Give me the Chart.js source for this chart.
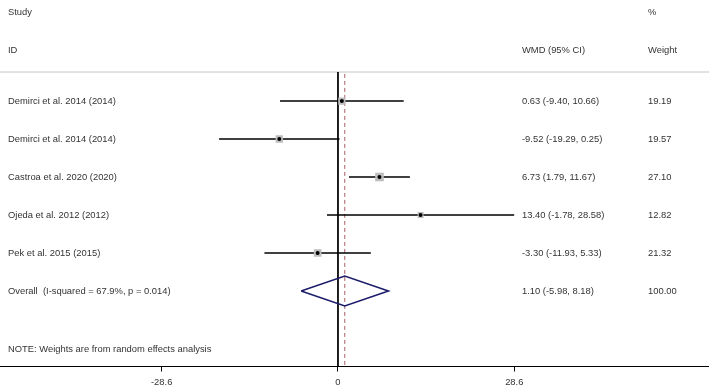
<!DOCTYPE html>
<html>
<head>
<meta charset="utf-8">
<script src="https://cdn.jsdelivr.net/npm/chart.js@4.4.0/dist/chart.umd.min.js"></script>
<style>
  html, body { margin: 0; padding: 0; background: #fff; }
  #wrap { width: 709px; height: 388px; }
</style>
</head>
<body>
<div id="wrap"><canvas id="myChart" width="709" height="388"></canvas></div>
<script>
// DATA
const studies = [
    "Demirci et al. 2014 (2014)",
    "Demirci et al. 2014 (2014)",
    "Castroa et al. 2020 (2020)",
    "Ojeda et al. 2012 (2012)",
    "Pek et al. 2015 (2015)",
];
const estimates = [0.63, -9.52, 6.73, 13.40, -3.30];
const lowerCI = [-9.40, -19.29, 1.79, -1.78, -11.93];
const upperCI = [10.66, 0.25, 11.67, 28.58, 5.33];
const weights = [19.19, 19.57, 27.10, 12.82, 21.32];

const overallLabel = "Overall  (I-squared = 67.9%, p = 0.014)";
const overallEst = 1.10;
const overallLo = -5.98;
const overallHi = 8.18;
const overallWeight = 100.00;

const tickValues = [-28.6, 0, 28.6];
const noteText = "NOTE: Weights are from random effects analysis";

// SETUP
const FONT = '"Liberation Sans", Arial, Helvetica, sans-serif';
const TEXT = "#333333";
const xMin = -54.83, xMax = 60.19;   // axis range so the plot spans the whole width
const yTop = -1.658, yBottom = 7.987;
const headerY = 0.237;
const overallRow = studies.length + 1;

const rows = studies.map((s, i) => i + 1);
const fmt = v => v.toFixed(2);

const datasets = [];

// centre dots
datasets.push({
    type: "scatter",
    order: 0,
    data: estimates.map((e, i) => ({x: e, y: rows[i]})),
    pointStyle: "circle",
    pointRadius: 2,
    backgroundColor: "#000",
    borderWidth: 0,
});

// weight boxes (area proportional to weight)
datasets.push({
    type: "scatter",
    order: 1,
    data: estimates.map((e, i) => ({x: e, y: rows[i]})),
    pointStyle: "rect",
    pointRadius: ctx => 1.17 * Math.sqrt(weights[ctx.dataIndex] || 0),
    backgroundColor: "#bdbdbd",
    borderWidth: 0,
});

// confidence intervals
studies.forEach((s, i) => {
    datasets.push({
        type: "line",
        order: 2,
        data: [{x: lowerCI[i], y: rows[i]}, {x: upperCI[i], y: rows[i]}],
        borderColor: "#000",
        borderWidth: 1.7,
        pointRadius: 0,
    });
});

// overall diamond
datasets.push({
    type: "line",
    order: 3,
    data: [
        {x: overallLo, y: overallRow},
        {x: overallEst, y: overallRow - 0.395},
        {x: overallHi, y: overallRow},
        {x: overallEst, y: overallRow + 0.395},
        {x: overallLo, y: overallRow},
    ],
    borderColor: "#1c1c6b",
    borderWidth: 1.6,
    pointRadius: 0,
    fill: false,
});

// line of no effect
datasets.push({
    type: "line",
    order: 4,
    data: [{x: 0, y: headerY}, {x: 0, y: yBottom}],
    borderColor: "#000",
    borderWidth: 1,
    pointRadius: 0,
});

// overall estimate dashed line
datasets.push({
    type: "line",
    order: 5,
    data: [{x: overallEst, y: headerY + 0.05}, {x: overallEst, y: yBottom}],
    borderColor: "#a8606a",
    borderWidth: 1,
    borderDash: [4, 3],
    pointRadius: 0,
});

// header rule
datasets.push({
    type: "line",
    order: 6,
    data: [{x: xMin, y: headerY}, {x: xMax, y: headerY}],
    borderColor: "#c4c4c4",
    borderWidth: 1,
    pointRadius: 0,
});

const textPlugin = {
    id: "forestText",
    afterDatasetsDraw(chart) {
        const ctx = chart.ctx;
        const y = chart.scales.y;
        ctx.save();
        ctx.font = "9.4px " + FONT;
        ctx.fillStyle = TEXT;
        ctx.textBaseline = "middle";
        ctx.textAlign = "left";
        const put = (t, px, row) => ctx.fillText(t, px, y.getPixelForValue(row));

        put("Study", 8, -1.342);
        put("%", 648, -1.342);
        put("ID", 8, -0.342);
        put("WMD (95% CI)", 522, -0.342);
        put("Weight", 648, -0.342);

        studies.forEach((s, i) => {
            put(s, 8, rows[i]);
            put(fmt(estimates[i]) + " (" + fmt(lowerCI[i]) + ", " + fmt(upperCI[i]) + ")", 522, rows[i]);
            put(fmt(weights[i]), 648, rows[i]);
        });
        put(overallLabel, 8, overallRow);
        put(fmt(overallEst) + " (" + fmt(overallLo) + ", " + fmt(overallHi) + ")", 522, overallRow);
        put(fmt(overallWeight), 648, overallRow);
        put(noteText, 8, 7.526);
        ctx.restore();
    }
};

// CONFIG
const config = {
    data: {datasets: datasets},
    options: {
        responsive: false,
        animation: false,
        layout: {padding: 0, autoPadding: false},
        plugins: {legend: {display: false}, tooltip: {enabled: false}},
        scales: {
            x: {
                type: "linear",
                min: xMin,
                max: xMax,
                afterBuildTicks: axis => { axis.ticks = tickValues.map(v => ({value: v})); },
                afterFit: axis => { axis.height = 21.5; },
                grid: {drawOnChartArea: false, drawTicks: true, tickLength: 5, color: "#000"},
                border: {display: true, color: "#000", width: 1},
                ticks: {
                    color: TEXT,
                    padding: 5,
                    maxRotation: 0,
                    font: {family: FONT, size: 9.4},
                    callback: v => String(v),
                },
            },
            y: {
                type: "linear",
                display: false,
                reverse: true,
                min: yTop,
                max: yBottom,
            },
        },
    },
    plugins: [textPlugin],
};

function drawChart() {
    const ctx = document.getElementById("myChart");
    new Chart(ctx, config);
}
drawChart();
</script>
</body>
</html>
